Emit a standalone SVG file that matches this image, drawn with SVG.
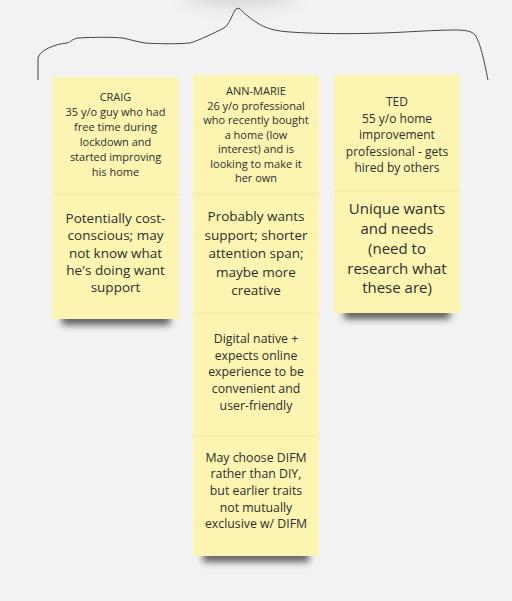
<svg xmlns="http://www.w3.org/2000/svg" width="512" height="601" viewBox="0 0 512 601">
<defs>
<filter id="sh" x="-20%" y="-100%" width="140%" height="300%"><feGaussianBlur stdDeviation="3.5"/></filter>
<filter id="sh2" x="-50%" y="-200%" width="200%" height="500%"><feGaussianBlur stdDeviation="8"/></filter>
<linearGradient id="seam" x1="0" y1="0" x2="0" y2="1">
<stop offset="0" stop-color="#f3eca6"/><stop offset="1" stop-color="#fcf5b1"/>
</linearGradient>
</defs>
<style>
.note{fill:#fcf5b1}
.seam{fill:url(#seam)}
.shadow{fill:#3a3a3a;opacity:0.8;filter:url(#sh)}
text{font-family:"Open Sans","Noto Sans","Liberation Sans",sans-serif;fill:#2e2e2e;text-anchor:middle}
.h{font-size:11px}
.ht{font-size:12px}
.b{font-size:13.5px}
.bt{font-size:15px}
.m{font-size:12.3px}
</style>
<rect width="512" height="601" fill="#f2f2f2"/>
<ellipse cx="240" cy="-4" rx="55" ry="9" fill="#bdbdbd" opacity="0.6" filter="url(#sh2)"/>
<g id="connectors">
<path d="M38,80 L38,58 C40,50 55,44 67,43 C71,42 72,39 78,38 C95,37 112,37 123,38 C132,40 138,42 145,43 C160,44 178,44 190,43 C200,40 214,33 224,28 C230,24 232,14 236,9 L239,8 C242,11 248,17 256,22 C266,29 276,31 290,32 C320,34 350,34 383,33 C410,32 435,30 455,30 C465,30 472,31 475,35 C480,42 484,60 488,80" fill="none" stroke="#444" stroke-width="1"/>
</g>
<g id="craig">
<rect class="shadow" x="62" y="313" width="108" height="12"/>
<rect class="note" x="52" y="77" width="127" height="116"/>
<text class="h"><tspan x="115.5" y="101">CRAIG</tspan><tspan x="115.5" y="116">35 y/o guy who had</tspan><tspan x="115.5" y="131">free time during</tspan><tspan x="115.5" y="146">lockdown and</tspan><tspan x="115.5" y="161">started improving</tspan><tspan x="115.5" y="176">his home</tspan></text>
</g>
<g id="craig-traits">
<rect class="note" x="52" y="193" width="127" height="126"/>
<rect class="seam" x="52" y="193" width="127" height="4"/>
<text class="b"><tspan x="115.5" y="223">Potentially cost-</tspan><tspan x="115.5" y="240.3">conscious; may</tspan><tspan x="115.5" y="257.6">not know what</tspan><tspan x="115.5" y="274.9">he's doing want</tspan><tspan x="115.5" y="292.2">support</tspan></text>
</g>
<g id="ann-marie">
<rect class="note" x="193" y="75" width="126" height="118"/>
<text class="h"><tspan x="256" y="95">ANN-MARIE</tspan><tspan x="256" y="109.5">26 y/o professional</tspan><tspan x="256" y="124">who recently bought</tspan><tspan x="256" y="138.5">a home (low</tspan><tspan x="256" y="153">interest) and is</tspan><tspan x="256" y="167.5">looking to make it</tspan><tspan x="256" y="182">her own</tspan></text>
</g>
<g id="ann-marie-traits">
<rect class="note" x="193" y="193" width="126" height="119"/>
<rect class="seam" x="193" y="193" width="126" height="4"/>
<text class="b"><tspan x="256" y="221">Probably wants</tspan><tspan x="256" y="239.5">support; shorter</tspan><tspan x="256" y="258">attention span;</tspan><tspan x="256" y="276.5">maybe more</tspan><tspan x="256" y="295">creative</tspan></text>
</g>
<g id="ann-marie-digital">
<rect class="note" x="193" y="312" width="126" height="123"/>
<rect class="seam" x="193" y="312" width="126" height="4"/>
<text class="m"><tspan x="256" y="343">Digital native +</tspan><tspan x="256" y="359.7">expects online</tspan><tspan x="256" y="376.4">experience to be</tspan><tspan x="256" y="393.1">convenient and</tspan><tspan x="256" y="409.8">user-friendly</tspan></text>
</g>
<g id="ann-marie-difm">
<rect class="shadow" x="203" y="550" width="106" height="12"/>
<rect class="note" x="193" y="435" width="126" height="121"/>
<rect class="seam" x="193" y="435" width="126" height="4"/>
<text class="m"><tspan x="256" y="461.5">May choose DIFM</tspan><tspan x="256" y="478.2">rather than DIY,</tspan><tspan x="256" y="494.9">but earlier traits</tspan><tspan x="256" y="511.6">not mutually</tspan><tspan x="256" y="528.3">exclusive w/ DIFM</tspan></text>
</g>
<g id="ted">
<rect class="note" x="334" y="75" width="126" height="115"/>
<text class="ht"><tspan x="397" y="106">TED</tspan><tspan x="397" y="122.5">55 y/o home</tspan><tspan x="397" y="139">improvement</tspan><tspan x="397" y="155.5">professional - gets</tspan><tspan x="397" y="172">hired by others</tspan></text>
</g>
<g id="ted-traits">
<rect class="shadow" x="344" y="307" width="106" height="12"/>
<rect class="note" x="334" y="190" width="126" height="123"/>
<rect class="seam" x="334" y="190" width="126" height="4"/>
<text class="bt"><tspan x="397" y="213.5">Unique wants</tspan><tspan x="397" y="233.5">and needs</tspan><tspan x="397" y="253.5">(need to</tspan><tspan x="397" y="273.5">research what</tspan><tspan x="397" y="293">these are)</tspan></text>
</g>
</svg>
